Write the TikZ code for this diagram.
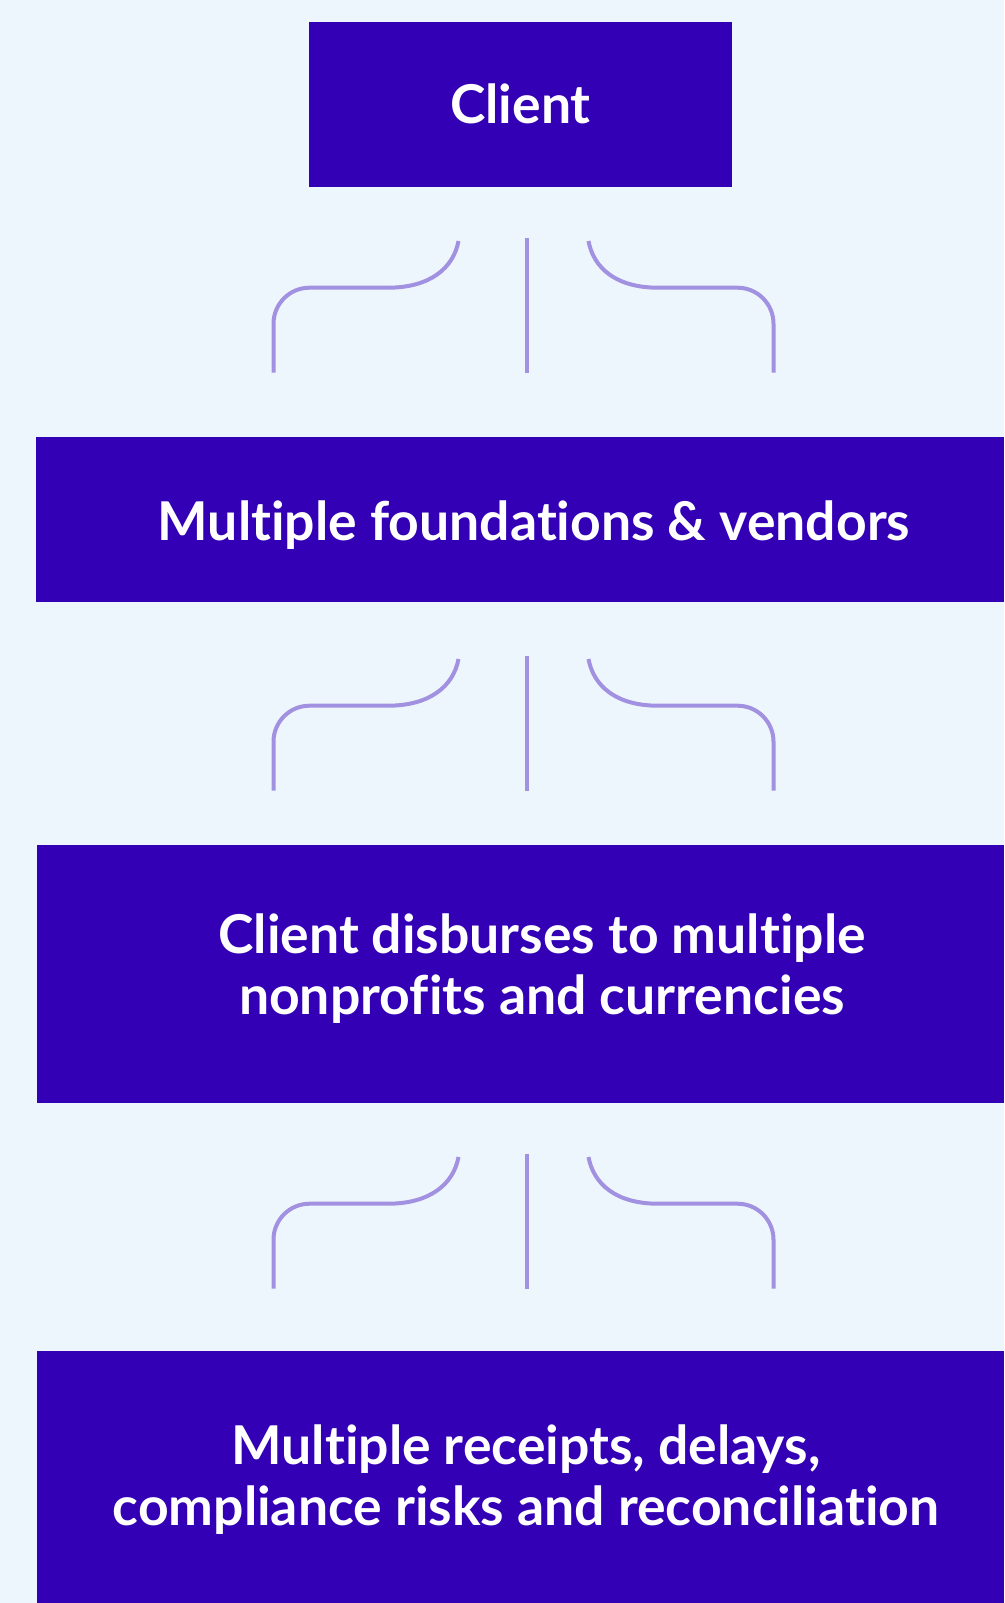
\documentclass[tikz,border=0pt]{standalone}
\usepackage{fontspec}
\setmainfont{Lato}[Ligatures=NoCommon]
\usetikzlibrary{positioning}

\definecolor{bgblue}{RGB}{238,246,253}
\definecolor{boxblue}{RGB}{51,0,181}
\definecolor{forkline}{RGB}{161,145,224}

\begin{document}
\begin{tikzpicture}[x=1pt,y=-1pt,
	box/.style={fill=boxblue,draw=none,inner sep=0pt,anchor=north west},
	lbl/.style={text=white,font=\fontsize{53.5}{61}\selectfont\bfseries,align=center,inner sep=0pt},
	fork/.style={draw=forkline,line width=4pt}]
	
	\fill[bgblue] (0,0) rectangle (1004,1603);
	\useasboundingbox (0,0) rectangle (1004,1603);
	
	% boxes
	\node[box,minimum width=423.2pt,minimum height=165.6pt] (client) at (308.8,21.5) {};
	\node[box,minimum width=968.2pt,minimum height=165.6pt] (found) at (35.8,436.6) {};
	\node[box,minimum width=967.2pt,minimum height=258.7pt] (disb) at (36.8,844.5) {};
	\node[box,minimum width=967.2pt,minimum height=252.4pt] (risk) at (36.8,1350.6) {};
	
	% texts
	\node[lbl] (client-lbl) at (520.4,103.5) {Client};
	\node[lbl] (found-lbl) at (534,525) {Multiple foundations \& vendors};
	\node[lbl] (disb-lbl) at (542,969) {Client disburses to multiple\\ nonprofits and currencies};
	\node[lbl] (risk-lbl) at (526,1480) {Multiple receipts, delays,\\ compliance risks and reconciliation};
	
	% forks between the boxes
	\foreach \dy/\n in {0/one,418/two,916/three}{
		\coordinate (\n-lb) at (273.5,372.7+\dy);
		\coordinate (\n-lm) at (388,287.7+\dy);
		\coordinate (\n-lt) at (458.5,241+\dy);
		\coordinate (\n-ct) at (526.5,238.3+\dy);
		\coordinate (\n-cb) at (526.5,372.7+\dy);
		\coordinate (\n-rt) at (588.5,241+\dy);
		\coordinate (\n-rm) at (658,287.7+\dy);
		\coordinate (\n-rb) at (773.5,372.7+\dy);
		
		\draw[fork,rounded corners=36pt] (\n-lb) |- (\n-lm);
		\draw[fork] (\n-lm) .. controls +(42,0) and +(-5,27) .. (\n-lt);
		\draw[fork] (\n-ct) -- (\n-cb);
		\draw[fork] (\n-rt) .. controls +(5,27) and +(-42,0) .. (\n-rm);
		\draw[fork,rounded corners=36pt] (\n-rm) -| (\n-rb);
	}
\end{tikzpicture}
\end{document}
